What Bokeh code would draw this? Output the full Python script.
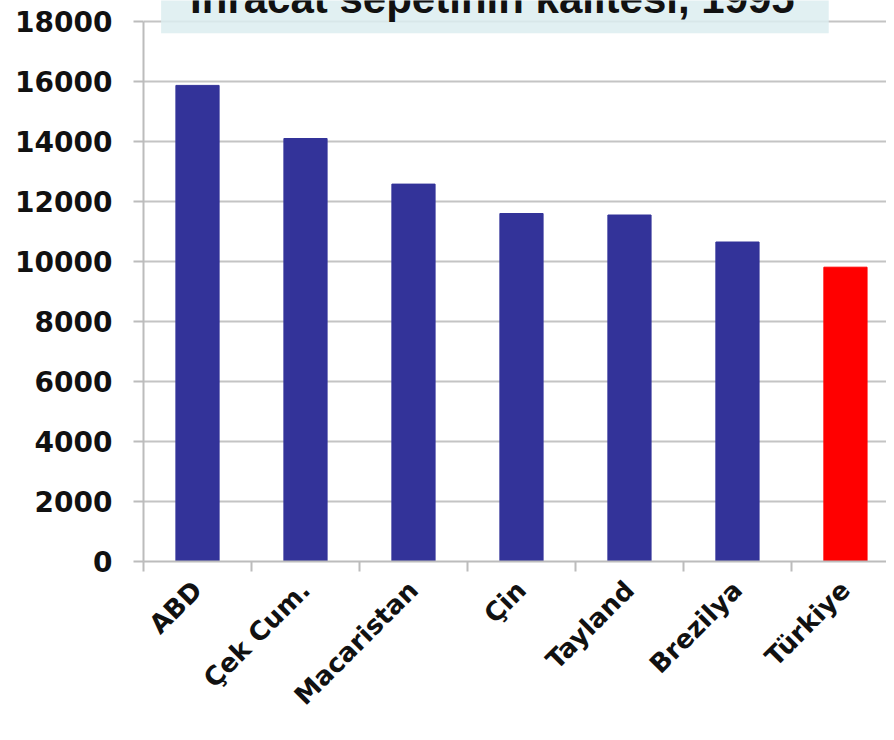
from math import pi
from bokeh.plotting import figure
from bokeh.models import Range1d, FixedTicker, Label, ColumnDataSource
from bokeh.embed import file_html
from bokeh.resources import INLINE

categories = ["ABD", "Çek Cum.", "Macaristan", "Çin", "Tayland", "Brezilya", "Türkiye"]
values = [15870, 14100, 12580, 11600, 11550, 10650, 9810]
bar_colors = ["#333399", "#333399", "#333399", "#333399", "#333399", "#333399", "#ff0000"]
y_ticks = [0, 2000, 4000, 6000, 8000, 10000, 12000, 14000, 16000, 18000]
title_text = "İhracat sepetinin kalitesi, 1995"

positions = list(range(len(categories)))
source = ColumnDataSource(dict(x=positions, top=values, color=bar_colors, name=categories))

p = figure(width=886, height=724,
           x_range=Range1d(-0.5, 6.38), y_range=Range1d(0, 18700),
           output_backend="svg", toolbar_location=None,
           min_border_left=143, min_border_right=0,
           min_border_top=0, min_border_bottom=162)
p.outline_line_color = None
p.background_fill_color = "white"

p.vbar(x="x", top="top", width=0.4, color="color", source=source)

# grid
p.xgrid.visible = False
p.ygrid.ticker = FixedTicker(ticks=y_ticks)
p.ygrid.grid_line_color = "#c4c4c4"
p.ygrid.grid_line_width = 2

# y axis
ya = p.yaxis[0]
ya.ticker = FixedTicker(ticks=y_ticks)
ya.bounds = (0, 18000)
ya.major_label_text_font = "DejaVu Sans"
ya.major_label_text_font_style = "bold"
ya.major_label_text_font_size = "28px"
ya.major_label_text_color = "#111111"
ya.axis_line_color = "#bcbcbc"
ya.axis_line_width = 2
ya.major_tick_line_color = "#bcbcbc"
ya.major_tick_line_width = 2
ya.major_tick_out = 10
ya.major_tick_in = 0
ya.minor_tick_out = 0
ya.minor_tick_in = 0
ya.major_label_standoff = 21

# x axis
xa = p.xaxis[0]
xa.ticker = FixedTicker(ticks=positions, minor_ticks=[i - 0.5 for i in range(len(categories) + 1)])
xa.major_label_overrides = {i: c for i, c in enumerate(categories)}
xa.major_label_orientation = pi / 4
xa.major_label_text_font = "DejaVu Sans"
xa.major_label_text_font_style = "bold"
xa.major_label_text_font_size = "26px"
xa.major_label_text_color = "#111111"
xa.axis_line_color = "#bcbcbc"
xa.axis_line_width = 2
xa.major_tick_line_color = None
xa.major_tick_out = 0
xa.major_tick_in = 0
xa.minor_tick_line_color = "#bcbcbc"
xa.minor_tick_line_width = 2
xa.minor_tick_out = 10
xa.minor_tick_in = 0
xa.major_label_standoff = 14

title = Label(x=2.754, y=18740, text=title_text,
              text_font="Liberation Sans", text_font_style="bold",
              text_font_size="42px", text_color="#111111",
              text_align="center", text_baseline="alphabetic",
              background_fill_color="#dcedf0", background_fill_alpha=0.85,
              padding=dict(left=29, right=34, top=10, bottom=11))
p.add_layout(title)

open("out.html", "w").write(file_html(p, INLINE))
